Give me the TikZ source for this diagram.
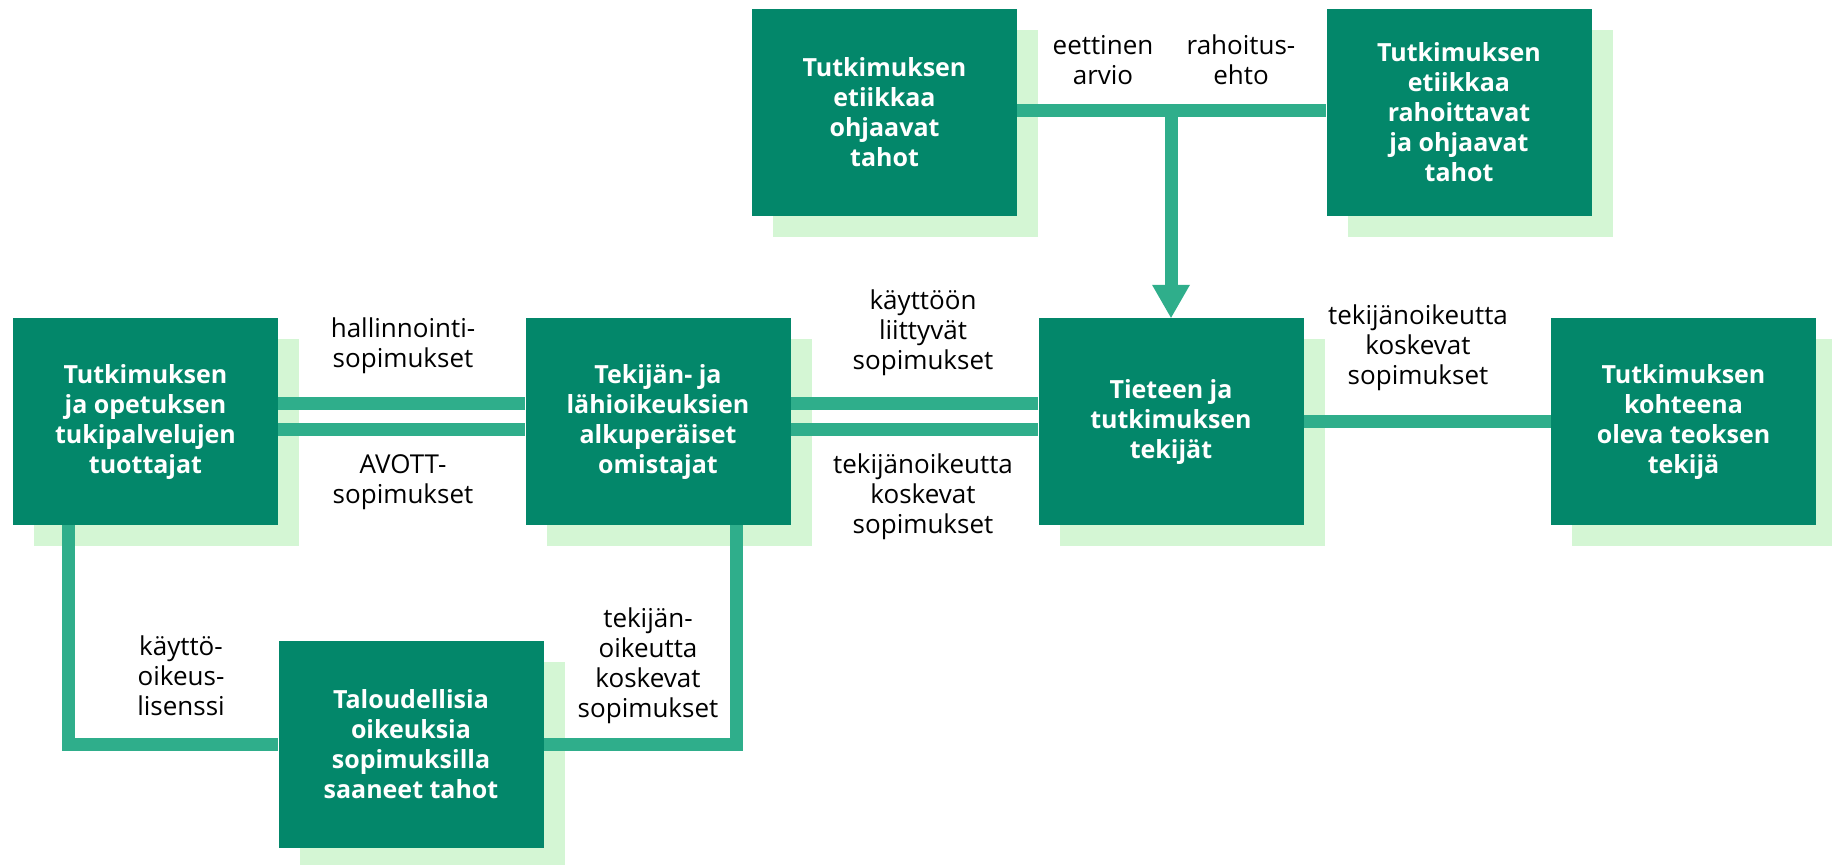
\documentclass[tikz,border=0pt]{standalone}
\usepackage{fontspec}
\setmainfont{Open Sans}
\usetikzlibrary{arrows.meta,shadows,calc}
\definecolor{boxgreen}{HTML}{03876A}
\definecolor{linegreen}{HTML}{2FAE8B}
\definecolor{shadowgreen}{HTML}{D4F6D4}
\begin{document}
\begin{tikzpicture}[x=1pt,y=-1pt,
  box/.style={fill=boxgreen, text=white, font=\fontsize{25}{30}\selectfont\bfseries,
    align=center, minimum width=265pt, minimum height=207pt, inner sep=0pt,
    general shadow={fill=shadowgreen, shadow xshift=21pt, shadow yshift=-21pt}},
  lbl/.style={text=black, font=\fontsize{26}{30}\selectfont, align=center, inner sep=0pt},
  conn/.style={draw=linegreen, line width=13pt, line cap=butt, line join=miter}]
\useasboundingbox (0,0) rectangle (1832,865);

\node[box] (eth) at (884.5,112) {Tutkimuksen\\etiikkaa\\ohjaavat\\tahot};
\node[box] (fund) at (1459,112) {Tutkimuksen\\etiikkaa\\rahoittavat\\ja ohjaavat\\tahot};
\node[box] (supp) at (145.5,421.5) {Tutkimuksen\\ja opetuksen\\tukipalvelujen\\tuottajat};
\node[box] (orig) at (658,421.5) {Tekijän- ja\\lähioikeuksien\\alkuperäiset\\omistajat};
\node[box] (sci) at (1171,421.5) {Tieteen ja\\tutkimuksen\\tekijät};
\node[box] (auth) at (1683.5,421.5) {Tutkimuksen\\kohteena\\oleva teoksen\\tekijä};
\node[box] (econ) at (411,744) {Taloudellisia\\oikeuksia\\sopimuksilla\\saaneet tahot};

% connectors
\draw[conn] ([yshift=2pt]eth.east) -- ([yshift=2pt]fund.west);
\coordinate (junc) at ([yshift=2pt]eth.east -| sci.north);
\draw[conn, -{Triangle[width=38pt,length=33pt,line width=0pt]}] (junc) -- (sci.north);

\draw[conn] ([yshift=18.5pt]supp.east) -- ([yshift=18.5pt]orig.west);
\draw[conn] ([yshift=-7.5pt]supp.east) -- ([yshift=-7.5pt]orig.west);
\draw[conn] ([yshift=18.5pt]orig.east) -- ([yshift=18.5pt]sci.west);
\draw[conn] ([yshift=-7.5pt]orig.east) -- ([yshift=-7.5pt]sci.west);
\draw[conn] (sci.east) -- (auth.west);

\draw[conn] ([xshift=-77pt]supp.south) |- (econ.west);
\draw[conn] ([xshift=78pt]orig.south) |- (econ.east);

% labels
\node[lbl] (l1) at (1103,60) {eettinen\\arvio};
\node[lbl] (l2) at (1241,60) {rahoitus-\\ehto};
\node[lbl] (l3) at (403,346) {hallinnointi-\\sopimukset};
\node[lbl] (l4) at (403,482) {AVOTT-\\sopimukset};
\node[lbl] (l5) at (923,333) {käyttöön\\liittyvät\\sopimukset};
\node[lbl] (l6) at (923,497) {tekijänoikeutta\\koskevat\\sopimukset};
\node[lbl] (l7) at (1418,348) {tekijänoikeutta\\koskevat\\sopimukset};
\node[lbl] (l8) at (181,676) {käyttö-\\oikeus-\\lisenssi};
\node[lbl] (l9) at (648,666) {tekijän-\\oikeutta\\koskevat\\sopimukset};
\end{tikzpicture}
\end{document}
